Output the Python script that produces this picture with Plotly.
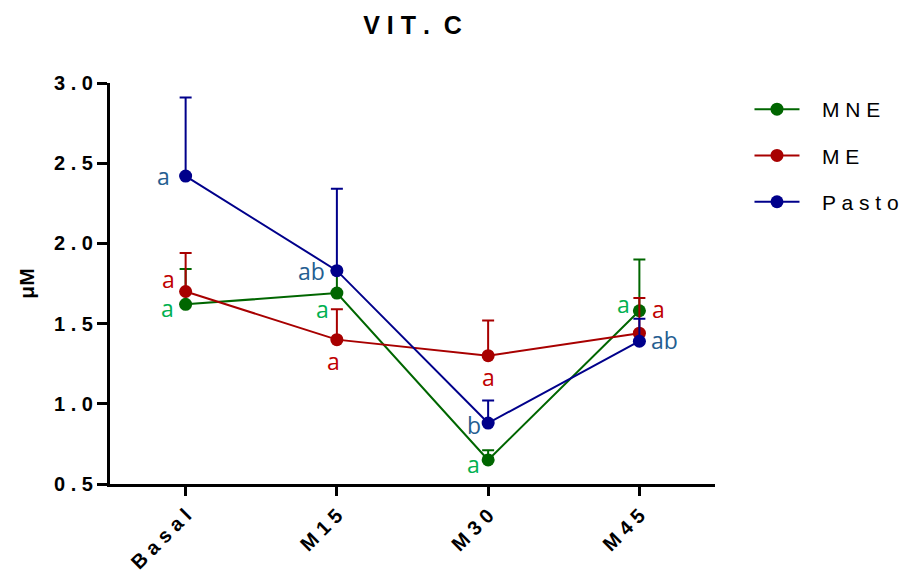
import plotly.graph_objects as go

categories = ["Basal", "M15", "M30", "M45"]
cat_labels = ["B a s a l", "M 1 5", "M 3 0", "M 4 5"]

mne_mean = [1.62, 1.69, 0.65, 1.58]
mne_upper = [1.84, 1.83, 0.71, 1.90]
me_mean = [1.70, 1.40, 1.30, 1.44]
me_upper = [1.94, 1.59, 1.52, 1.66]
pasto_mean = [2.42, 1.83, 0.88, 1.39]
pasto_upper = [2.91, 2.34, 1.02, 1.53]

mne_letters = ["a", "a", "a", "a"]
me_letters = ["a", "a", "a", "a"]
pasto_letters = ["a", "ab", "b", "ab"]

yticks = [0.5, 1.0, 1.5, 2.0, 2.5, 3.0]
ytick_text = ["0 . 5", "1 . 0", "1 . 5", "2 . 0", "2 . 5", "3 . 0"]

NB = "\u00a0"
series = [
    (NB * 3 + "M N E", mne_mean, mne_upper, "#006600", "#00b050", mne_letters,
     [(-18, -4), (-14, -16), (-15, -4), (-16, 7)]),
    (NB * 3 + "M E", me_mean, me_upper, "#a80000", "#c00000", me_letters,
     [(-17, 13), (-3, -21), (0, -21), (19, 24)]),
    (NB * 3 + "P a s t o", pasto_mean, pasto_upper, "#00008b", "#255e91", pasto_letters,
     [(-22, 0), (-25, 0), (-14, -2), (25, 1)]),
]

fig = go.Figure()
annotations = []
for i, (name, mean, upper, col, lcol, letters, offs) in enumerate(series):
    err = [u - m for u, m in zip(upper, mean)]
    fig.add_trace(go.Scatter(
        x=list(range(len(categories))), y=mean, name=name, mode="lines+markers",
        legendgroup=str(i),
        line=dict(color=col, width=2),
        marker=dict(color=col, size=13),
        error_y=dict(type="data", symmetric=False, array=err,
                     arrayminus=[0] * len(err), color=col, thickness=2, width=6),
    ))
    for j, (txt, (dx, dy)) in enumerate(zip(letters, offs)):
        annotations.append(dict(
            x=j, y=mean[j], xref="x", yref="y", text=txt, showarrow=False,
            xshift=dx, yshift=dy,
            font=dict(family="Open Sans", size=23, color=lcol)))

fig.update_layout(
    width=905, height=572,
    margin=dict(l=110, r=190, t=83, b=88, autoexpand=False),
    plot_bgcolor="white", paper_bgcolor="white",
    title=dict(text="<b>V I T .  C</b>", x=0.5, xref="paper", xanchor="center",
               y=1 - 25 / 572, yanchor="middle",
               font=dict(family="Liberation Sans", size=25, color="black")),
    font=dict(family="Liberation Sans", color="black"),
    legend=dict(x=1.057, xanchor="left", y=0.985, yanchor="top",
                font=dict(family="Liberation Sans", size=21, color="black"),
                tracegroupgap=16, traceorder="grouped", itemwidth=45,
                bgcolor="rgba(0,0,0,0)"),
    annotations=annotations,
    showlegend=True,
)

fig.update_xaxes(
    range=[-0.5, 3.5], tickmode="array", tickvals=list(range(len(categories))),
    ticktext=["<b>" + t + "</b>" for t in cat_labels], tickangle=-45,
    showline=True, linecolor="black", linewidth=3, ticks="outside",
    ticklen=9, tickwidth=3, tickcolor="black", showgrid=False, zeroline=False,
    automargin=False,
    tickfont=dict(family="Liberation Sans", size=20, color="black"),
)
fig.update_yaxes(
    range=[0.5, 3.0], tickmode="array", tickvals=yticks,
    ticktext=["<b>" + t + "</b>" for t in ytick_text],
    showline=True, linecolor="black", linewidth=3, ticks="outside",
    ticklen=10, tickwidth=3, tickcolor="black", showgrid=False, zeroline=False,
    automargin=False,
    tickfont=dict(family="Liberation Sans", size=20, color="black"),
    title=dict(text="<b>μM</b>", standoff=14,
               font=dict(family="Liberation Sans", size=21, color="black")),
)

fig.write_html("out.html")
